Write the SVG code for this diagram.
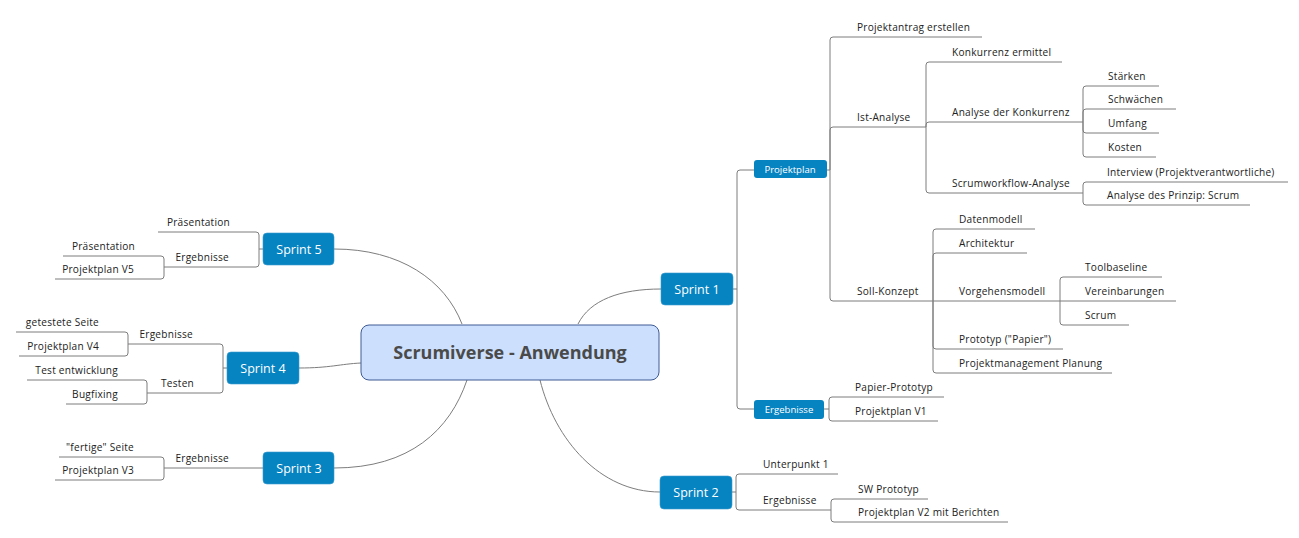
<svg xmlns="http://www.w3.org/2000/svg" width="1299" height="538" viewBox="0 0 1299 538">
<style>
.c{fill:none;stroke:#7d7d7d;stroke-width:1}
.t{font-family:"Open Sans","Liberation Sans",sans-serif;font-size:10.1px;letter-spacing:0.25px;fill:#222}
.e{text-anchor:end}
.sp rect{fill:#0683c1;stroke:#3a9bd0;stroke-width:0.6}
.sp text{font-family:"Open Sans","Liberation Sans",sans-serif;font-size:12.5px;fill:#fff;text-anchor:middle}
.sm rect{fill:#0683c1}
.sm text{font-family:"Open Sans","Liberation Sans",sans-serif;font-size:9.6px;fill:#fff;text-anchor:middle}
</style>
<rect width="1299" height="538" fill="#fff"/>
<g id="connectors" class="c">
<path d="M578,324 C590,300 620,289 661,289"/>
<path d="M540,380 C555,440 600,492 660,492"/>
<path d="M334,249 C400,249 445,280 462,324"/>
<path d="M299,368 C330,368 340,364 361,363"/>
<path d="M334,468 C410,468 450,430 467,380"/>
<path d="M733,289 H737 V173 Q737,170 740,170 H754"/>
<path d="M737,289 V406 Q737,409 740,409 H754"/>
<path d="M827,170 H830 V40 Q830,37 833,37 H982"/>
<path d="M830,170 V130 Q830,127 833,127 H926"/>
<path d="M830,170 V298 Q830,301 833,301 H933"/>
<path d="M926,127 V65 Q926,62 929,62 H1062"/>
<path d="M926,127 V125 Q926,122 929,122 H1083"/>
<path d="M926,127 V190 Q926,193 929,193 H1083"/>
<path d="M1083,122 V89 Q1083,86 1086,86 H1159"/>
<path d="M1083,122 V112 Q1083,109 1086,109 H1176"/>
<path d="M1083,122 V130 Q1083,133 1086,133 H1159"/>
<path d="M1083,122 V154 Q1083,157 1086,157 H1156"/>
<path d="M1083,193 V185 Q1083,182 1086,182 H1288"/>
<path d="M1083,193 V202 Q1083,205 1086,205 H1250"/>
<path d="M933,301 V232 Q933,229 936,229 H1035"/>
<path d="M933,301 V256 Q933,253 936,253 H1027"/>
<path d="M933,301 H1060"/>
<path d="M933,301 V346 Q933,349 936,349 H1063"/>
<path d="M933,301 V370 Q933,373 936,373 H1112"/>
<path d="M1060,301 V280 Q1060,277 1063,277 H1162"/>
<path d="M1060,301 H1176"/>
<path d="M1060,301 V322 Q1060,325 1063,325 H1129"/>
<path d="M824,409 H829 V400 Q829,397 832,397 H944"/>
<path d="M829,409 V418 Q829,421 832,421 H938"/>
<path d="M732,492 H736 V477 Q736,474 739,474 H838"/>
<path d="M736,492 V507 Q736,510 739,510 H831"/>
<path d="M831,510 V502 Q831,499 834,499 H928"/>
<path d="M831,510 V519 Q831,522 834,522 H1008"/>
<path d="M263,249 H259 V235 Q259,232 256,232 H158"/>
<path d="M259,249 V264 Q259,267 256,267 H164"/>
<path d="M164,267 V259 Q164,256 161,256 H63"/>
<path d="M164,267 V276 Q164,279 161,279 H55"/>
<path d="M227,368 H223 V347 Q223,344 220,344 H128"/>
<path d="M223,368 V390 Q223,393 220,393 H147"/>
<path d="M128,344 V335 Q128,332 125,332 H16"/>
<path d="M128,344 V353 Q128,356 125,356 H19"/>
<path d="M147,393 V383 Q147,380 144,380 H27"/>
<path d="M147,393 V401 Q147,404 144,404 H66"/>
<path d="M263,468 H164"/>
<path d="M164,468 V460 Q164,457 161,457 H59"/>
<path d="M164,468 V477 Q164,480 161,480 H55"/>
</g>
<g id="central">
<rect x="361" y="325" width="298" height="55" rx="8" fill="#cce0fd" stroke="#3e5a94" stroke-width="1"/>
<text x="510" y="359" text-anchor="middle" font-family="'Open Sans','Liberation Sans',sans-serif" font-size="18px" font-weight="bold" fill="#4a4a4a">Scrumiverse - Anwendung</text>
</g>
<g id="sprint1" class="sp"><rect x="661" y="273" width="72" height="32" rx="4"/><text x="697" y="294">Sprint 1</text></g>
<g id="sprint2" class="sp"><rect x="660" y="476" width="72" height="33" rx="4"/><text x="696" y="497">Sprint 2</text></g>
<g id="sprint3" class="sp"><rect x="263" y="452" width="71" height="32" rx="4"/><text x="299" y="473">Sprint 3</text></g>
<g id="sprint4" class="sp"><rect x="227" y="352" width="72" height="32" rx="4"/><text x="263" y="373">Sprint 4</text></g>
<g id="sprint5" class="sp"><rect x="263" y="233" width="71" height="32" rx="4"/><text x="299" y="254">Sprint 5</text></g>
<g id="projektplan" class="sm"><rect x="754" y="160" width="73" height="18" rx="3"/><text x="790" y="173">Projektplan</text></g>
<g id="ergebnisse1" class="sm"><rect x="754" y="400" width="70" height="19" rx="3"/><text x="789" y="413">Ergebnisse</text></g>
<g id="projektantrag"><text class="t" x="857" y="31">Projektantrag erstellen</text></g>
<g id="ist-analyse"><text class="t" x="857" y="121">Ist-Analyse</text></g>
<g id="soll-konzept"><text class="t" x="857" y="295">Soll-Konzept</text></g>
<g id="konkurrenz-ermittel"><text class="t" x="952" y="56">Konkurrenz ermittel</text></g>
<g id="analyse-konkurrenz"><text class="t" x="952" y="116">Analyse der Konkurrenz</text></g>
<g id="scrumworkflow"><text class="t" x="952" y="187">Scrumworkflow-Analyse</text></g>
<g id="staerken"><text class="t" x="1108" y="80">Stärken</text></g>
<g id="schwaechen"><text class="t" x="1108" y="103">Schwächen</text></g>
<g id="umfang"><text class="t" x="1108" y="127">Umfang</text></g>
<g id="kosten"><text class="t" x="1108" y="151">Kosten</text></g>
<g id="interview"><text class="t" x="1107" y="176">Interview (Projektverantwortliche)</text></g>
<g id="prinzip"><text class="t" x="1107" y="199">Analyse des Prinzip: Scrum</text></g>
<g id="datenmodell"><text class="t" x="959" y="223">Datenmodell</text></g>
<g id="architektur"><text class="t" x="959" y="247">Architektur</text></g>
<g id="vorgehensmodell"><text class="t" x="959" y="295">Vorgehensmodell</text></g>
<g id="prototyp"><text class="t" x="959" y="343">Prototyp ("Papier")</text></g>
<g id="pm-planung"><text class="t" x="959" y="367">Projektmanagement Planung</text></g>
<g id="toolbaseline"><text class="t" x="1085" y="271">Toolbaseline</text></g>
<g id="vereinbarungen"><text class="t" x="1085" y="295">Vereinbarungen</text></g>
<g id="scrum"><text class="t" x="1085" y="319">Scrum</text></g>
<g id="papier-prototyp"><text class="t" x="855" y="391">Papier-Prototyp</text></g>
<g id="projektplan-v1"><text class="t" x="855" y="415">Projektplan V1</text></g>
<g id="unterpunkt1"><text class="t" x="763" y="468">Unterpunkt 1</text></g>
<g id="ergebnisse2"><text class="t" x="763" y="504">Ergebnisse</text></g>
<g id="sw-prototyp"><text class="t" x="858" y="493">SW Prototyp</text></g>
<g id="projektplan-v2"><text class="t" x="858" y="516">Projektplan V2 mit Berichten</text></g>
<g id="praesentation5"><text class="t e" x="230" y="226">Präsentation</text></g>
<g id="ergebnisse5"><text class="t e" x="229" y="261">Ergebnisse</text></g>
<g id="praesentation5b"><text class="t e" x="135" y="250">Präsentation</text></g>
<g id="projektplan-v5"><text class="t e" x="134" y="273">Projektplan V5</text></g>
<g id="ergebnisse4"><text class="t e" x="193" y="338">Ergebnisse</text></g>
<g id="testen"><text class="t e" x="194" y="387">Testen</text></g>
<g id="getestete"><text class="t e" x="99" y="326">getestete Seite</text></g>
<g id="projektplan-v4"><text class="t e" x="99" y="350">Projektplan V4</text></g>
<g id="test-entwicklung"><text class="t e" x="118" y="374">Test entwicklung</text></g>
<g id="bugfixing"><text class="t e" x="118" y="398">Bugfixing</text></g>
<g id="ergebnisse3"><text class="t e" x="229" y="462">Ergebnisse</text></g>
<g id="fertige"><text class="t e" x="134" y="451">"fertige" Seite</text></g>
<g id="projektplan-v3"><text class="t e" x="134" y="474">Projektplan V3</text></g>
</svg>
